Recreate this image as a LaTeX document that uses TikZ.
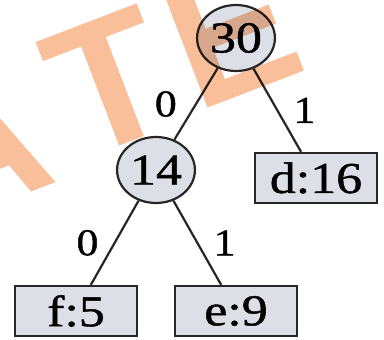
\documentclass[tikz,border=0pt]{standalone}
\usepackage{fontspec}
\newfontfamily\treefont{Liberation Serif}[FakeBold=1]
\newfontfamily\stampfont{Liberation Sans Bold}
\usetikzlibrary{positioning}
\definecolor{nodegray}{HTML}{DCE0E6}
\definecolor{ink}{HTML}{262626}
\definecolor{stamp}{HTML}{F9BF9B}
\tikzset{
  inner/.style={draw=ink,fill=nodegray,circle,minimum size=66pt,inner sep=0pt,
    line width=2.2pt,font=\treefont\fontsize{44}{44}\selectfont,xscale=1.18},
  leaf/.style={draw=ink,fill=nodegray,rectangle,minimum width=103pt,
    minimum height=50pt,inner sep=0pt,line width=2.2pt,
    font=\treefont\fontsize{44}{44}\selectfont,xscale=1.18},
  edge/.style={draw=ink,line width=2.2pt},
  bit/.style={font=\treefont\fontsize{38}{38}\selectfont,inner sep=0pt,xscale=1.15},
  wmark/.style={text=stamp,font=\stampfont\fontsize{184}{184}\selectfont,
    inner sep=0pt,rotate=21}
}

\begin{document}
\begin{tikzpicture}[x=1pt,y=-1pt]
  \useasboundingbox (0,0) rectangle (384,340);
  \clip (0,0) rectangle (384,340);
  \fill[white] (0,0) rectangle (384,340);

  % tree
  \node[inner] (n30) at (236,38) {30};
  \node[inner] (n14) at (156,170) {14};
  \node[leaf] (d16) at (316,178) {d:16};
  \node[leaf] (f5) at (76,311) {f:5};
  \node[leaf] (e9) at (236,311) {e:9};

  \draw[edge] (n30) -- node[bit,left=18pt] {0} (n14);
  \draw[edge] (n30) -- node[bit,right=15pt] {1} (d16);
  \draw[edge] (n14) -- node[bit,left=15pt] {0} (f5);
  \draw[edge] (n14) -- node[bit,right=15pt] {1} (e9);

  % watermark
  \begin{scope}[blend mode=multiply]
    \node[wmark,anchor=base] (wa) at (-1,205) {A};
    \node[wmark,anchor=base] (wt) at (132,141) {T};
    \node[wmark,anchor=base west] (we) at (196,113) {E};
  \end{scope}
\end{tikzpicture}
\end{document}
